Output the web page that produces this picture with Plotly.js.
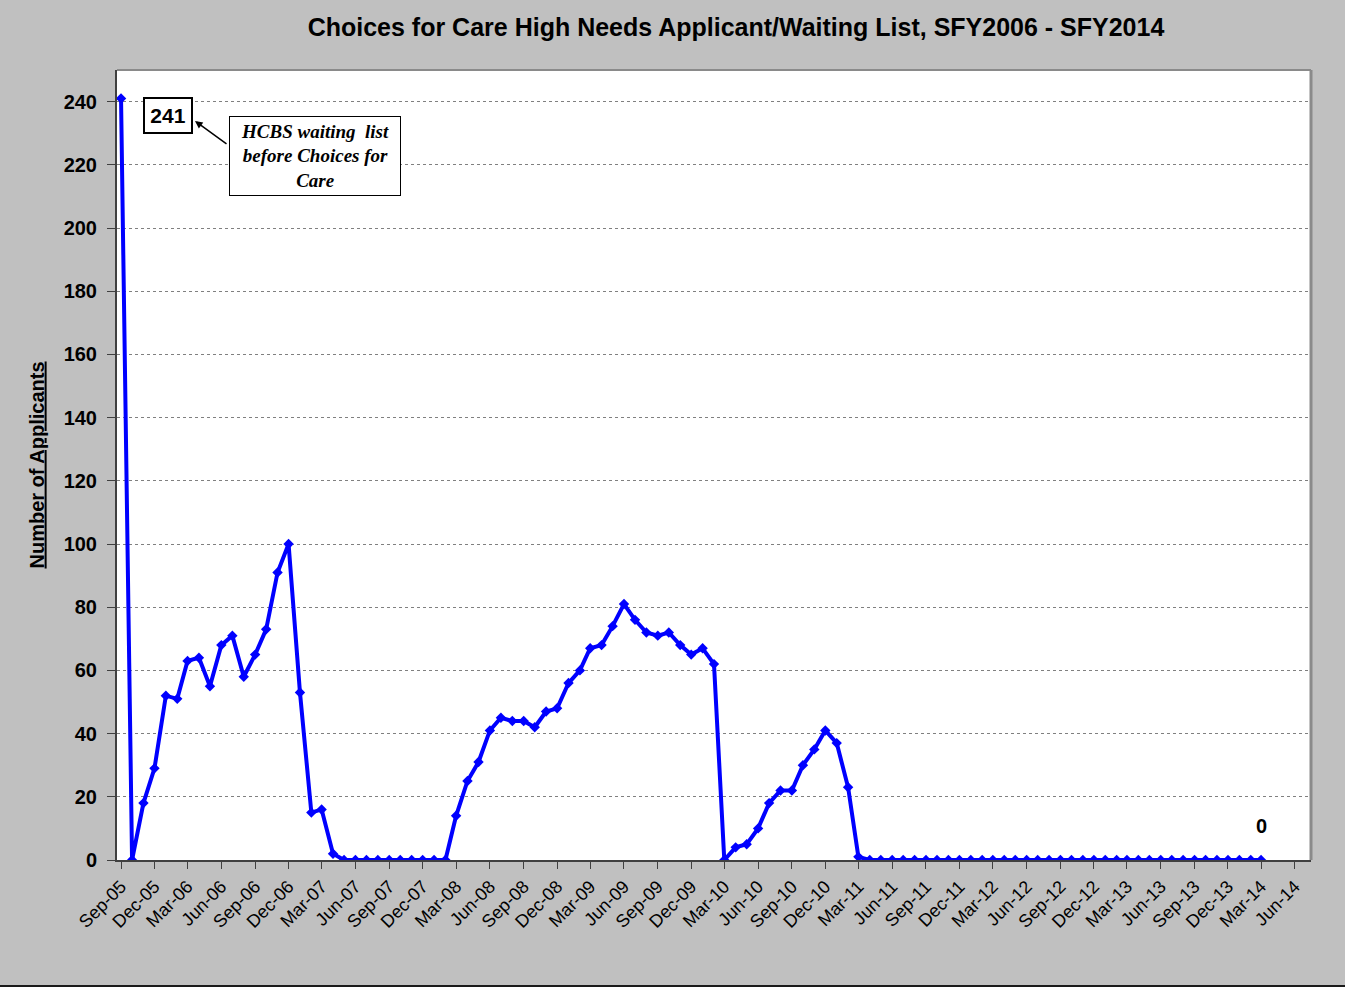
<!DOCTYPE html>
<html>
<head>
<meta charset="utf-8">
<script src="https://cdn.plot.ly/plotly-3.0.1.min.js"></script>
<style>
  html, body { margin: 0; padding: 0; background: #C0C0C0; }
  #chart { width: 1345px; height: 985px; border-bottom: 2px solid #1a1a1a; }
</style>
</head>
<body>
<div id="chart"></div>
<script>
// ---- Data (monthly, Sep-05 .. Mar-14) ----
const startMonth = '2005-09';
const applicants = [
  241, 0, 18, 29, 52, 51, 63, 64, 55, 68, 71, 58, 65, 73, 91, 100,
  53, 15, 16, 2, 0, 0, 0, 0, 0, 0, 0, 0, 0, 0,
  14, 25, 31, 41, 45, 44, 44, 42, 47, 48, 56, 60, 67, 68, 74, 81,
  76, 72, 71, 72, 68, 65, 67, 62, 0, 4, 5, 10, 18, 22, 22, 30,
  35, 41, 37, 23, 1,
  0, 0, 0, 0, 0, 0, 0, 0, 0, 0, 0, 0, 0, 0, 0, 0, 0, 0,
  0, 0, 0, 0, 0, 0, 0, 0, 0, 0, 0, 0, 0, 0, 0, 0, 0, 0
];
const chartTitle = 'Choices for Care High Needs Applicant/Waiting List, SFY2006 - SFY2014';
const yTitle = 'Number of Applicants';
const firstLabel = '241';
const noteText = 'HCBS waiting  list<br>before Choices for<br>Care';

// build monthly dates
const months = [];
{
  let [y, m] = startMonth.split('-').map(Number);
  for (let i = 0; i < applicants.length; i++) {
    months.push(y + '-' + String(m).padStart(2, '0') + '-01');
    m++; if (m > 12) { m = 1; y++; }
  }
}
const lastIdx = applicants.length - 1;

const font = 'Arial, "Liberation Sans", sans-serif';
const serif = '"Times New Roman", "Liberation Serif", serif';

const trace = {
  x: months,
  y: applicants,
  type: 'scatter',
  mode: 'lines+markers',
  line: { color: '#0000FF', width: 4 },
  marker: { symbol: 'diamond', size: 8, color: '#0000FF' },
  hoverinfo: 'x+y',
  showlegend: false
};

const layout = {
  width: 1345,
  height: 985,
  paper_bgcolor: '#C0C0C0',
  plot_bgcolor: '#FFFFFF',
  margin: { l: 117, r: 34, t: 70, b: 125 },
  font: { family: font, color: '#000' },
  title: {
    text: '<b>' + chartTitle + '</b>',
    font: { family: font, size: 25, color: '#000' },
    xref: 'container', x: 736 / 1345, xanchor: 'center',
    yref: 'container', y: 1 - 27 / 985, yanchor: 'middle'
  },
  xaxis: {
    type: 'date',
    range: ['2005-08-21', '2014-07-15'],
    tick0: '2005-09-01',
    dtick: 'M3',
    tickformat: '%b-%y',
    tickangle: -45,
    tickfont: { family: font, size: 18, color: '#000' },
    ticks: 'outside', ticklen: 7, tickcolor: '#404040', tickwidth: 1,
    showgrid: false,
    showline: true, linecolor: '#404040', linewidth: 2,
    mirror: false,
    zeroline: false
  },
  yaxis: {
    range: [0, 250],
    tick0: 0, dtick: 20,
    tickfont: { family: font, size: 20, color: '#000', weight: 'bold' },
    ticks: 'outside', ticklen: 8, tickcolor: '#404040', tickwidth: 1,
    ticklabelstandoff: 6,
    showgrid: true, gridcolor: '#808080', gridwidth: 1, griddash: 'dot',
    showline: true, linecolor: '#404040', linewidth: 2,
    zeroline: false,
    title: {
      text: '<b><u>' + yTitle + '</u></b>',
      font: { family: font, size: 20, color: '#000' },
      standoff: 14
    }
  },
  shapes: [
    { type: 'line', xref: 'paper', yref: 'paper', x0: 0, x1: 1, y0: 1, y1: 1,
      line: { color: '#8a8a8a', width: 2 } },
    { type: 'line', xref: 'paper', yref: 'paper', x0: 1, x1: 1, y0: 0, y1: 1,
      line: { color: '#8a8a8a', width: 3 } }
  ],
  annotations: [
    {
      xref: 'paper', yref: 'paper',
      x: (168 - 117) / 1194, y: (860 - 116) / 790,
      xanchor: 'center', yanchor: 'middle',
      text: '<b>' + firstLabel + '</b>',
      font: { family: font, size: 21, color: '#000' },
      showarrow: false,
      bgcolor: '#FFFFFF', bordercolor: '#000', borderwidth: 2,
      width: 44, height: 31
    },
    {
      xref: 'paper', yref: 'paper',
      x: (315 - 117) / 1194, y: (860 - 156) / 790,
      xanchor: 'center', yanchor: 'middle',
      text: '<b><i>' + noteText + '</i></b>',
      font: { family: serif, size: 19, color: '#000' },
      align: 'center',
      showarrow: false,
      bgcolor: '#FFFFFF', bordercolor: '#000', borderwidth: 1,
      width: 168, height: 76
    },
    {
      xref: 'paper', yref: 'paper',
      x: (195 - 117) / 1194, y: (860 - 121) / 790,
      text: '',
      showarrow: true,
      arrowhead: 2, arrowsize: 1, arrowwidth: 1.5, arrowcolor: '#000',
      ax: 33, ay: 24
    },
    {
      x: months[lastIdx], y: applicants[lastIdx],
      text: '<b>' + applicants[lastIdx] + '</b>',
      font: { family: font, size: 20, color: '#000' },
      showarrow: false,
      yshift: 34
    }
  ]
};

Plotly.newPlot('chart', [trace], layout, { displayModeBar: false, staticPlot: true });
</script>
</body>
</html>
